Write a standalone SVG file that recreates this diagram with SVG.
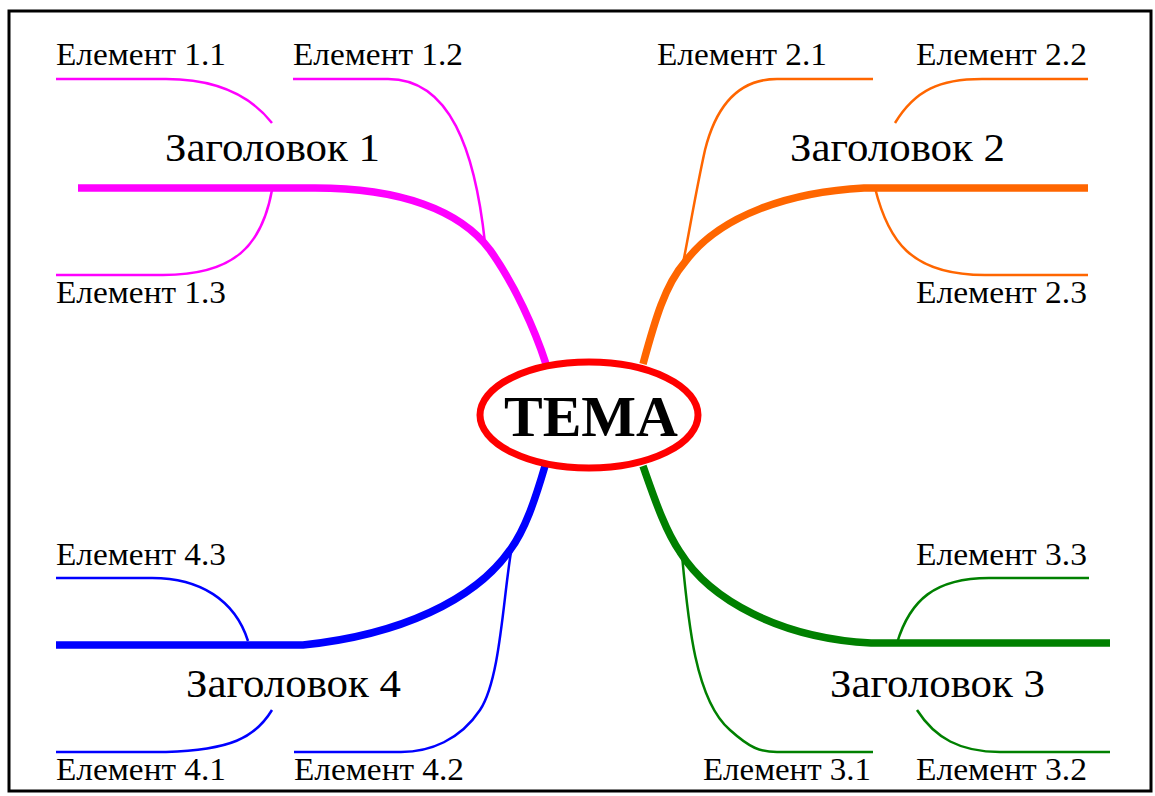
<svg xmlns="http://www.w3.org/2000/svg" width="1155" height="796" viewBox="0 0 1155 796">
<style>
.el{font-family:"Liberation Serif","Times New Roman",serif;font-size:31px;fill:#000}
.hd{font-family:"Liberation Serif","Times New Roman",serif;font-size:40px;fill:#000}
.tm{font-family:"Liberation Serif","Times New Roman",serif;font-size:58px;font-weight:bold;fill:#000}
.c{fill:none;stroke-linecap:butt;stroke-linejoin:round}
.thin{stroke-width:2.5}
.thick{stroke-width:7.5}
.m{stroke:#FF00FF}.o{stroke:#FF6600}.g{stroke:#008000}.b{stroke:#0000FF}
</style>
<rect x="0" y="0" width="1155" height="796" fill="#fff"/>
<rect x="9" y="11" width="1142" height="780" fill="none" stroke="#000" stroke-width="3"/>
<g id="connectors">
<path class="c thick m" d="M78,188 H315 C400,188 460,210 490,250 C515,285 535,330 546,364"/>
<path class="c thin m" d="M56,79 H166 C215,79 250,95 272,123"/>
<path class="c thin m" d="M293,79 H388 C450,79 475,150 485,243"/>
<path class="c thin m" d="M272,190 C262,245 235,275 163,275 H56"/>
<path class="c thick o" d="M643,364 C655,320 665,285 685,262 C720,215 790,192 864,188 H1088"/>
<path class="c thin o" d="M873,79 H777 C735,79 715,110 705,150 C695,195 688,240 682,268"/>
<path class="c thin o" d="M895,123 C915,90 940,79 982,79 H1088"/>
<path class="c thin o" d="M875,188 C888,240 910,275 985,275 H1088"/>
<path class="c thick g" d="M643,466 C655,500 665,530 680,552 C710,600 780,638 871,643 H1110"/>
<path class="c thin g" d="M682,555 C688,620 695,700 730,730 C750,748 760,752 777,752 H873"/>
<path class="c thin g" d="M897,643 C910,600 935,578 989,578 H1089"/>
<path class="c thin g" d="M917,710 C935,738 960,752 1000,752 H1110"/>
<path class="c thick b" d="M545,466 C535,500 525,530 510,550 C475,600 400,635 303,645 H56"/>
<path class="c thin b" d="M56,578 H152 C200,578 235,600 248,641"/>
<path class="c thin b" d="M272,710 C255,738 230,750 166,752 H56"/>
<path class="c thin b" d="M511,552 C503,600 500,680 480,710 C460,740 430,752 401,752 H294"/>
</g>
<g id="tema">
<ellipse cx="589" cy="415" rx="109" ry="53" fill="#fff" stroke="#FF0000" stroke-width="7"/>
<text class="tm" x="591" y="436" text-anchor="middle">ТЕМА</text>
</g>
<g id="heading1"><text class="hd" x="165" y="161" textLength="215" lengthAdjust="spacingAndGlyphs">Заголовок 1</text></g>
<g id="heading2"><text class="hd" x="790" y="161" textLength="215" lengthAdjust="spacingAndGlyphs">Заголовок 2</text></g>
<g id="heading3"><text class="hd" x="830" y="697" textLength="215" lengthAdjust="spacingAndGlyphs">Заголовок 3</text></g>
<g id="heading4"><text class="hd" x="186" y="697" textLength="215" lengthAdjust="spacingAndGlyphs">Заголовок 4</text></g>
<g id="el11"><text class="el" x="56" y="65" textLength="170" lengthAdjust="spacingAndGlyphs">Елемент 1.1</text></g>
<g id="el12"><text class="el" x="293" y="65" textLength="170" lengthAdjust="spacingAndGlyphs">Елемент 1.2</text></g>
<g id="el13"><text class="el" x="56" y="303" textLength="170" lengthAdjust="spacingAndGlyphs">Елемент 1.3</text></g>
<g id="el21"><text class="el" x="657" y="65" textLength="170" lengthAdjust="spacingAndGlyphs">Елемент 2.1</text></g>
<g id="el22"><text class="el" x="916" y="65" textLength="171" lengthAdjust="spacingAndGlyphs">Елемент 2.2</text></g>
<g id="el23"><text class="el" x="916" y="303" textLength="171" lengthAdjust="spacingAndGlyphs">Елемент 2.3</text></g>
<g id="el31"><text class="el" x="703" y="780" textLength="168" lengthAdjust="spacingAndGlyphs">Елемент 3.1</text></g>
<g id="el32"><text class="el" x="916" y="780" textLength="171" lengthAdjust="spacingAndGlyphs">Елемент 3.2</text></g>
<g id="el33"><text class="el" x="916" y="565" textLength="171" lengthAdjust="spacingAndGlyphs">Елемент 3.3</text></g>
<g id="el41"><text class="el" x="56" y="780" textLength="170" lengthAdjust="spacingAndGlyphs">Елемент 4.1</text></g>
<g id="el42"><text class="el" x="294" y="780" textLength="170" lengthAdjust="spacingAndGlyphs">Елемент 4.2</text></g>
<g id="el43"><text class="el" x="56" y="565" textLength="170" lengthAdjust="spacingAndGlyphs">Елемент 4.3</text></g>
</svg>
